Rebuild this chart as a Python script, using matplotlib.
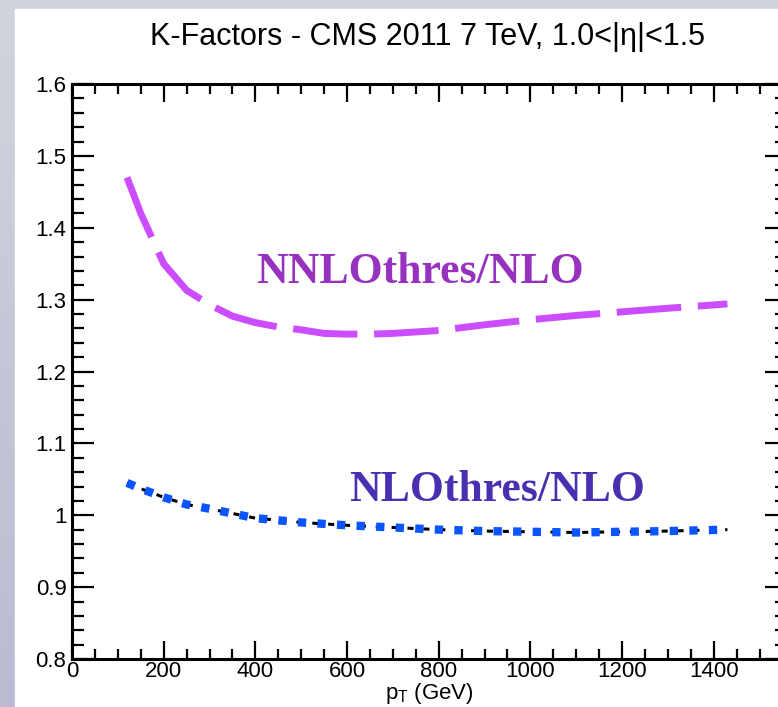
import numpy as np
import matplotlib
matplotlib.use("Agg")
import matplotlib.pyplot as plt
from matplotlib.ticker import MultipleLocator
from matplotlib.patches import Rectangle

plt.rcParams['font.family'] = ['Liberation Sans', 'DejaVu Sans']

# K-factor curves (pT in GeV)
pt_nnlo = [120, 150, 200, 250, 300, 350, 400, 450, 500, 550, 600, 650, 700,
           800, 900, 1000, 1100, 1200, 1300, 1430]
k_nnlo = [1.470, 1.420, 1.350, 1.313, 1.293, 1.277, 1.268, 1.262, 1.258, 1.253,
          1.252, 1.252, 1.253, 1.257, 1.265, 1.272, 1.278, 1.283, 1.288, 1.294]

pt_nlo = [120, 150, 200, 250, 300, 400, 500, 600, 700, 800, 900, 1000,
          1100, 1200, 1300, 1430]
k_nlo = [1.045, 1.037, 1.025, 1.015, 1.009, 0.996, 0.990, 0.986, 0.983,
         0.980, 0.978, 0.977, 0.976, 0.977, 0.978, 0.980]

title = "K-Factors - CMS 2011 7 TeV, 1.0<|\u03b7|<1.5"
label_nnlo = "NNLOthres/NLO"
label_nlo = "NLOthres/NLO"
x_ticks = [0, 200, 400, 600, 800, 1000, 1200, 1400]
y_ticks = [0.8, 0.9, 1.0, 1.1, 1.2, 1.3, 1.4, 1.5, 1.6]
y_ticklabels = ["0.8", "0.9", "1", "1.1", "1.2", "1.3", "1.4", "1.5", "1.6"]

W, H = 778, 707
fig = plt.figure(figsize=(W / 100, H / 100), dpi=100)

# slide background: grey strips on top and left, white chart area
bg = fig.add_axes([0, 0, 1, 1])
bg.set_axis_off()
grad = np.linspace(0, 1, 256).reshape(-1, 1)
bg.imshow(grad, aspect="auto", extent=[0, 1, 0, 1],
          cmap=matplotlib.colors.LinearSegmentedColormap.from_list(
              "slide", ["#d2d4db", "#b9bbd3"]))
bg.add_patch(Rectangle((15 / W, 0), 1, 1 - 9 / H, color="white", zorder=2))
bg.set_xlim(0, 1)
bg.set_ylim(0, 1)

left, right, top, bottom = 72, 787, 84, 659
ax = fig.add_axes([left / W, (H - bottom) / H, (right - left) / W, (bottom - top) / H])
ax.set_facecolor("none")

ax.plot(pt_nnlo, k_nnlo, color="#cc4dff", lw=5, dashes=(9.3, 2.4),
        solid_capstyle="butt", dash_capstyle="butt")
# thin black dashes sit under the square blue dots
ax.plot(pt_nlo, k_nlo, color="black", lw=2.2, dashes=(2.0, 3.2),
        dash_capstyle="butt")
ax.plot(pt_nlo, k_nlo, color="#0a55ff", lw=6, dashes=(1.0, 1.35),
        dash_capstyle="butt")

ax.set_xlim(0, 1560)
ax.set_ylim(0.8, 1.6)
ax.set_xticks(x_ticks)
ax.set_xticklabels([str(v) for v in x_ticks])
ax.set_yticks(y_ticks)
ax.set_yticklabels(y_ticklabels)
ax.xaxis.set_minor_locator(MultipleLocator(50))
ax.yaxis.set_minor_locator(MultipleLocator(0.02))

for s in ax.spines.values():
    s.set_linewidth(2.2)
ax.tick_params(which="both", direction="in", top=True, right=True, width=1.6,
               labelsize=16)
ax.tick_params(axis="x", which="major", length=13, pad=1.5)
ax.tick_params(axis="x", which="minor", length=7.5)
ax.tick_params(axis="y", which="major", length=16, pad=4)
ax.tick_params(axis="y", which="minor", length=8.5)

ax.set_xlabel("p$_\\mathregular{T}$ (GeV)", fontsize=16, va="bottom")
ax.xaxis.set_label_coords(0.5, -0.081)
fig.text(428 / W, 1 - 37 / H, title, ha="center", va="center", fontsize=22)

fig.text(420 / W, 1 - 272 / H, label_nnlo, ha="center", va="center",
         fontsize=31.5, fontweight="bold", family="Liberation Serif",
         color="#9632be")
fig.text(497 / W, 1 - 490 / H, label_nlo, ha="center", va="center",
         fontsize=31.5, fontweight="bold", family="Liberation Serif",
         color="#4a30b0")

fig.savefig("out.png", dpi=100)
